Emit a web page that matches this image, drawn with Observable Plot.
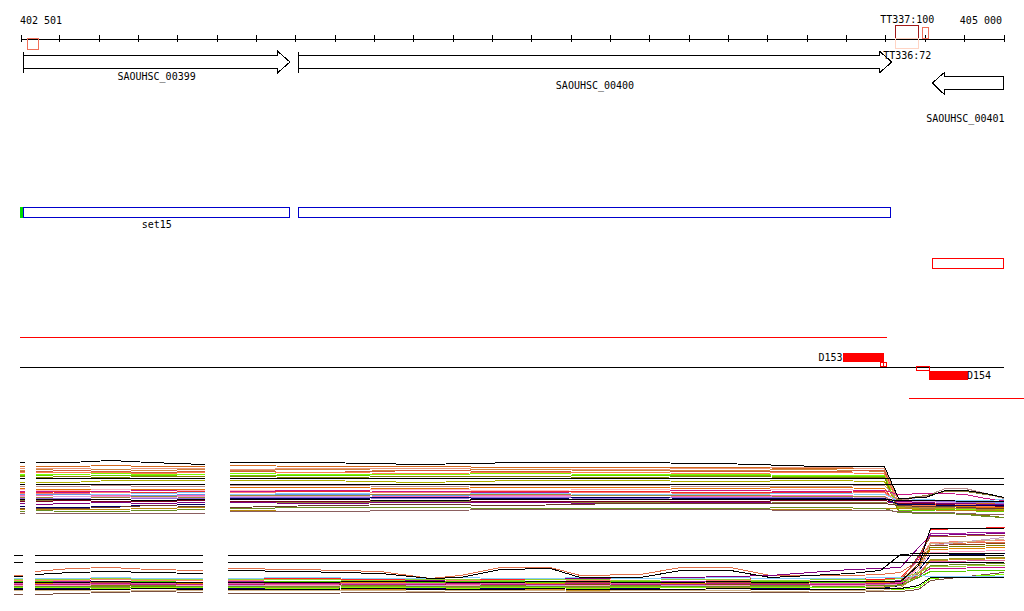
<!DOCTYPE html>
<html><head><meta charset="utf-8">
<script src="https://cdn.jsdelivr.net/npm/d3@7"></script>
<script src="https://cdn.jsdelivr.net/npm/@observablehq/plot@0.6"></script>
<style>
html,body{margin:0;padding:0;background:#fff}
#chart{position:relative;width:1024px;height:611px;overflow:hidden;background:#fff}
#chart svg{position:absolute;left:0}
</style>
</head><body><div id="chart"></div><script>
// ---------------- DATA ----------------
const axisRange = [402501, 405000];
const axisTicks = [402501,402600,402700,402800,402900,403000,403100,403200,403300,403400,403500,403600,403700,
  403800,403900,404000,404100,404200,404300,404400,404500,404600,404700,404800,404900,405000];
const axisLabels = ["402 501", "405 000"];

const geneNames  = ["SAOUHSC_00399", "SAOUHSC_00400", "SAOUHSC_00401"];
const geneStart  = [402508, 403207, 404819];
const geneEnd    = [403186, 404716, 405060];
const geneStrand = ["+", "+", "-"];

const termNames  = ["TT337:100", "TT336:72"];
const termStart  = [404725, 404725];
const termEnd    = [404783, 404783];
const termStrand = ["+", "-"];

const miscStart  = [402520, 404794];
const miscEnd    = [402546, 404809];
const miscStrand = ["-", "+"];

const setNames  = ["set15", ""];
const setStart  = [402508, 403207];
const setEnd    = [403184, 404714];
const setMarker = [402500, 402508];

const regionStart = [404819];
const regionEnd   = [405000];

const redSpanA  = [402500, 404703];
const baseSpan  = [402500, 405000];
const redSpanB  = [404760, 405052];

const peakNames  = ["D153", "D154"];
const peakStart  = [404592, 404811];
const peakEnd    = [404696, 404911];
const peakStrand = ["+", "-"];

const siteStart  = [404687, 404695, 404778];
const siteEnd    = [404695, 404703, 404812];
const siteStrand = ["+", "+", "-"];

// upper expression panel (probe positions, bp)
const upperStubPos  = [402500, 402510];
const upperMidPos   = [402540, 402627, 402729, 402830, 402967];
const upperRightPos = [403034, 403262, 403517, 403771, 404025, 404279, 404534, 404696, 404732, 404800, 404851, 404902, 404953, 405000];
const upperColors = ["#d2691e","#e9967a","#cd853f","#cd5c3c","#ff7f50","#7cfc00","#66cc00","#808000","#b0b000","#bc8f8f",
  "#e07000","#ffb6c1","#c71585","#ee2c2c","#fa8072","#87cefa","#6495ed","#ff69b4","#dda0dd","#a08838",
  "#9370db","#8b7d3a","#7a0020","#800080","#000060","#6b3a2a","#b8860b","#6b8e23","#8b5f5f",
  "#000000","#000000","#000000","#000000"];
const upperStub = [54,52,50,49,48,46,45,44,38,34,32,31,29,28,27,26,26,25,24,23,22,20,19,17,14,12,11,9,7,21,36,42,58];
const upperMid = [
  [54,54,55,54,54],[52,52,51,52,52],[51,50,51,50,51],[49,50,49,48,49],[48,48,48,47,48],
  [46,46,47,46,46],[45,44,45,45,44],[43,44,43,44,44],[38,38,40,40,40],[34,34,35,34,34],
  [31,31,31,31,31],[30,30,31,30,30],[29,28,29,30,29],[28,29,28,28,29],[27,27,28,27,26],
  [25,26,26,27,28],[26,26,25,25,26],[25,24,25,24,25],[23,24,24,23,24],[23,22,23,24,23],
  [22,22,21,22,22],[20,20,19,20,20],[19,20,19,19,20],[16,17,18,17,18],[13,13,14,15,16],
  [12,12,13,15,14],[11,11,11,12,13],[10,9,9,10,11],[7,7,7,7,7],
  [21,21,21,20,21],[36,36,36,36,36],[42,42,42,42,42],[58,58,60,58,56]];
const upperRight = [
  [55,54,54,53,53,53,52,52,19,18,19,18,17,16],
  [51,52,52,51,51,52,53,52,18,18,17,17,16,16],
  [50,51,50,51,50,50,51,49,14,13,14,13,12,12],
  [49,48,50,49,48,49,49,50,15,14,16,15,14,13],
  [47,48,47,48,48,47,48,47,16,15,15,14,14,14],
  [47,46,46,47,46,46,45,45,12,11,12,11,11,10],
  [45,45,44,44,45,45,44,44,10,10,11,10,9,9],
  [44,43,44,44,43,44,43,43,9,8,8,7,5,3],
  [40,40,38,40,40,39,40,39,13,12,12,12,11,11],
  [35,35,34,35,35,34,34,35,20,24,32,32,27,22],
  [33,33,32,33,33,32,33,32,15,14,14,14,13,13],
  [30,30,31,30,31,30,31,30,17,16,16,16,15,15],
  [29,30,29,28,29,30,29,30,26,27,27,26,22,20],
  [28,29,28,29,29,28,28,29,17,16,16,15,15,14],
  [28,27,28,27,28,27,27,28,18,17,17,16,16,16],
  [26,27,26,27,26,26,27,26,20,21,20,20,20,21],
  [25,26,25,24,25,24,23,22,20,19,19,19,18,18],
  [24,25,24,25,25,24,25,24,18,18,19,18,18,17],
  [24,24,23,24,23,23,24,23,19,19,18,18,19,19],
  [25,25,26,26,25,25,24,24,14,12,13,12,11,10],
  [23,23,22,23,22,23,23,22,19,20,19,18,18,17],
  [18,18,19,18,18,19,18,18,21,25,29,29,26,23],
  [19,19,20,19,19,19,20,20,17,17,16,15,15,14],
  [18,17,18,18,17,18,17,17,19,18,17,17,16,16],
  [22,22,23,22,23,22,22,22,16,16,15,15,15,15],
  [13,15,16,15,17,17,17,17,15,14,14,13,12,12],
  [10,9,10,11,12,11,11,12,12,11,10,10,10,10],
  [12,13,13,12,12,12,13,12,8,7,7,6,4,3],
  [9,9,10,11,11,11,10,10,9,8,8,7,6,6],
  [21,21,20,21,21,21,21,21,20,20,20,19,19,19],
  [36,36,36,36,36,36,36,36,36,36,36,36,36,36],
  [42,42,42,42,42,42,42,42,42,42,42,42,42,42],
  [58,58,56,58,58,57,54,54,22,23,30,30,27,23]];

// lower expression panel
const lowerStubPos  = [402484, 402505];
const lowerMidPos   = [402538, 402627, 402729, 402830, 402962];
const lowerRightPos = [403029, 403212, 403415, 403542, 403618, 403720, 403847, 403923, 404076, 404178, 404305, 404406, 404610, 404686, 404737, 404783, 404813, 405000];
const lowerColors = ["#e0704a","#800080","#ff2020","#a020a0","#a0522d","#c8a2c8","#fa8072","#8b4513","#808000","#e08000",
  "#ff9ec0","#000050","#9a9a20","#e060a0","#9acd32","#c71585","#55cc00","#7a5040","#7cfc00","#87cefa",
  "#c89020","#d2b48c","#6b8e23","#000000","#000000","#000000","#000000","#000000"];
const lowerStub = [30,24,26,24,22,20,25,21,19,23,20,17,18,22,26,21,24,11,18,27,16,15,19,16,23,29,43,50];
const lowerMid = [
  [34,37,38,36,35],[24,25,24,25,25],[26,27,27,26,26],[23,24,24,24,23],[22,22,23,22,22],
  [20,21,20,20,21],[25,25,26,25,25],[21,20,21,21,20],[19,19,20,19,19],[22,23,22,23,22],
  [20,20,19,20,20],[17,17,18,17,17],[18,19,18,18,19],[21,22,21,22,21],[26,26,27,26,26],
  [21,21,22,21,21],[24,23,24,24,23],[11,12,13,14,13],[18,18,17,18,18],[27,27,28,27,27],
  [15,16,16,15,16],[15,15,14,15,15],[19,19,19,20,19],[16,16,16,17,16],[23,23,24,23,23],
  [31,33,34,33,32],[43,43,43,43,43],[50,50,50,50,50]];
const lowerRight = [
  [37,36,34,27,30,38,38,30,31,38,38,30,30,31,33,45,62,63],
  [24,24,25,25,24,25,26,27,27,28,29,30,36,37,38,58,70,72],
  [27,27,26,27,26,26,27,26,27,26,26,27,27,26,28,45,76,78],
  [24,23,24,24,23,24,24,23,24,24,23,24,24,23,25,48,72,73],
  [22,23,22,22,23,22,22,23,22,22,23,22,23,22,24,50,69,70],
  [20,20,21,20,20,21,20,20,21,20,20,21,21,20,22,40,60,68],
  [25,26,25,26,25,25,26,25,25,26,25,25,26,25,27,45,63,65],
  [21,21,20,21,21,20,21,21,20,21,21,20,21,22,23,42,60,62],
  [19,20,19,19,20,19,19,20,19,19,20,19,20,19,21,38,58,60],
  [22,22,23,22,22,23,22,22,23,22,22,23,22,23,24,40,56,58],
  [19,20,20,19,20,20,19,20,20,19,20,20,20,19,22,38,53,55],
  [17,17,18,17,17,17,18,17,17,18,17,17,18,17,20,35,50,52],
  [18,18,19,18,18,19,18,18,19,18,18,19,18,18,20,32,46,48],
  [22,21,22,22,21,22,21,22,22,21,22,21,22,21,23,33,44,45],
  [26,26,25,26,26,25,26,26,25,26,26,25,26,25,27,33,39,40],
  [21,22,21,21,22,21,21,22,21,21,22,21,21,22,22,30,37,38],
  [23,24,24,23,24,24,23,24,24,23,24,24,23,24,24,28,34,35],
  [12,12,13,13,13,13,13,13,13,13,13,13,13,14,14,16,25,33],
  [18,17,18,18,17,18,18,17,18,18,17,18,18,17,16,18,27,31],
  [27,28,27,27,28,27,27,28,27,27,28,27,27,28,28,30,29,29],
  [16,15,16,16,15,16,16,15,16,16,15,16,16,15,18,30,45,47],
  [15,15,15,14,15,15,15,14,15,15,15,14,15,15,18,35,62,66],
  [19,19,20,19,19,20,19,19,20,19,19,20,19,20,20,28,40,42],
  [16,16,17,16,16,16,17,16,16,16,17,16,16,17,17,20,28,28],
  [23,23,24,24,23,23,24,24,23,23,24,23,24,24,24,40,77,77],
  [35,34,32,27,28,36,37,28,28,35,35,28,32,35,51,52,52,52],
  [43,43,43,43,43,43,43,43,43,43,43,43,43,43,43,43,43,43],
  [50,50,50,50,50,50,50,50,50,50,50,50,50,50,50,50,50,50]];

// ---------------- LAYOUT / STYLE ----------------
const FONT = "DejaVu Sans Mono, monospace";
const L = {
  axisY: 38.5, tickY1: 35, tickY2: 42, axisLabelY: 20,
  termPlus: [25.5, 38.5], termMinus: [38.5, 48.5], termLabelPlus: 19.5, termLabelMinus: 55,
  miscPlus: [27.5, 38.5], miscMinus: [38.5, 49.5],
  fwd: {ht: 51.5, bt: 55.5, mid: 62, bb: 68.5, hb: 72.5},
  rev: {ht: 72.5, bt: 76.5, mid: 83, bb: 89.5, hb: 94.5},
  head: 12, geneLabelY: [76, 85, 118],
  setY: [207.5, 217.5], setLabelY: 224,
  regionY: [258.5, 268.5],
  redA: 336.5, base: 366.5, redB: 397.5,
  peakPlus: [353, 362], peakMinus: [371, 379.5],
  sitePlus: [362.5, 366.5], siteMinus: [366.5, 370.5]
};
const termStroke = ["#a01818", "#ffd4c4"];
const xOpts = {domain: axisRange, range: [20.5, 1003.5], axis: null};
const idx = a => a.map((_, i) => i);

// gene arrows drawn with Plot's x scale
function geneMark(index, scales) {
  const X = scales.x;
  const xMax = X(axisRange[1]);
  const g = d3.create("svg:g");
  geneNames.forEach((name, i) => {
    const a = X(geneStart[i]);
    const clipped = X(geneEnd[i]) > xMax;
    const b = Math.min(X(geneEnd[i]), xMax);
    let d;
    if (geneStrand[i] === "+") {
      const r = L.fwd, hs = b - L.head;
      d = `M${a},${r.bt}H${hs}V${r.ht}L${b},${r.mid}L${hs},${r.hb}V${r.bb}H${a}Z M${a},${r.ht}V${r.hb}`;
    } else {
      const r = L.rev, hs = a + L.head;
      d = `M${b},${r.bt}H${hs}V${r.ht}L${a},${r.mid}L${hs},${r.hb}V${r.bb}H${b}Z`;
    }
    g.append("path").attr("d", d).attr("fill", "white").attr("stroke", "black")
      .attr("stroke-width", 1).attr("shape-rendering", "crispEdges");
    g.append("text")
      .attr("x", clipped ? xMax + 1 : (a + b) / 2)
      .attr("y", L.geneLabelY[i]).attr("dy", "0.35em")
      .attr("text-anchor", clipped ? "end" : "middle")
      .attr("font-family", FONT).attr("font-size", 10).attr("fill", "black")
      .text(name);
  });
  return g.node();
}

const txt = {fontFamily: FONT, fontSize: 10, fill: "black"};
const crisp = {shapeRendering: "crispEdges"};

const tracks = Plot.plot({
  width: 1024, height: 420, margin: 0,
  x: xOpts, y: {type: "identity", axis: null},
  style: {background: "transparent"},
  marks: [
    // axis
    Plot.ruleY([L.axisY], {x1: axisRange[0], x2: axisRange[1], stroke: "black", ...crisp}),
    Plot.ruleX(axisTicks, {y1: L.tickY1, y2: L.tickY2, stroke: "black", ...crisp}),
    Plot.text([0], {x: axisRange[0], y: L.axisLabelY, text: () => axisLabels[0], textAnchor: "start", dx: -1, ...txt}),
    Plot.text([1], {x: axisRange[1], y: L.axisLabelY, text: () => axisLabels[1], textAnchor: "end", dx: -2, ...txt}),
    // terminators & misc boxes
    Plot.rect(idx(termNames), {x1: i => termStart[i], x2: i => termEnd[i],
      y1: i => (termStrand[i] === "+" ? L.termPlus : L.termMinus)[0],
      y2: i => (termStrand[i] === "+" ? L.termPlus : L.termMinus)[1],
      stroke: i => termStroke[i], fill: "none", ...crisp}),
    Plot.rect(idx(miscStart), {x1: i => miscStart[i], x2: i => miscEnd[i],
      y1: i => (miscStrand[i] === "+" ? L.miscPlus : L.miscMinus)[0],
      y2: i => (miscStrand[i] === "+" ? L.miscPlus : L.miscMinus)[1],
      stroke: "#f0705a", fill: "none", ...crisp}),
    // genes
    geneMark,
    Plot.text(idx(termNames), {x: i => (termStart[i] + termEnd[i]) / 2,
      y: i => termStrand[i] === "+" ? L.termLabelPlus : L.termLabelMinus,
      text: i => termNames[i], textAnchor: "middle", ...txt}),
    // sets
    Plot.rect(idx(setStart), {x1: i => setStart[i], x2: i => setEnd[i], y1: L.setY[0], y2: L.setY[1],
      stroke: "#0000cc", fill: "white", ...crisp}),
    Plot.rect([0], {x1: setMarker[0], x2: setMarker[1], y1: L.setY[0] - 0.5, y2: L.setY[1] + 0.5, fill: "#00dd00", ...crisp}),
    Plot.text(idx(setNames), {x: i => (setStart[i] + setEnd[i]) / 2, y: L.setLabelY, text: i => setNames[i], textAnchor: "middle", ...txt}),
    // region
    Plot.rect(idx(regionStart), {x1: i => regionStart[i], x2: i => regionEnd[i], y1: L.regionY[0], y2: L.regionY[1],
      stroke: "#ff0000", fill: "none", ...crisp}),
    // spans
    Plot.ruleY([L.redA], {x1: redSpanA[0], x2: redSpanA[1], stroke: "#ff0000", strokeWidth: 1, ...crisp}),
    Plot.ruleY([L.base], {x1: baseSpan[0], x2: baseSpan[1], stroke: "black", ...crisp}),
    Plot.ruleY([L.redB], {x1: redSpanB[0], x2: redSpanB[1], stroke: "#ff0000", strokeWidth: 1, ...crisp}),
    // sites & peaks
    Plot.rect(idx(siteStart), {x1: i => siteStart[i], x2: i => siteEnd[i],
      y1: i => (siteStrand[i] === "+" ? L.sitePlus : L.siteMinus)[0],
      y2: i => (siteStrand[i] === "+" ? L.sitePlus : L.siteMinus)[1],
      stroke: "#ff0000", fill: "none", ...crisp}),
    Plot.rect(idx(peakNames), {x1: i => peakStart[i], x2: i => peakEnd[i],
      y1: i => (peakStrand[i] === "+" ? L.peakPlus : L.peakMinus)[0],
      y2: i => (peakStrand[i] === "+" ? L.peakPlus : L.peakMinus)[1],
      fill: "#ff0000", ...crisp}),
    Plot.text([0], {x: peakStart[0], y: (L.peakPlus[0] + L.peakPlus[1]) / 2, text: () => peakNames[0], textAnchor: "end", dx: -1, ...txt}),
    Plot.text([1], {x: peakEnd[1], y: (L.peakMinus[0] + L.peakMinus[1]) / 2, text: () => peakNames[1], textAnchor: "start", dx: -2, ...txt})
  ]
});
tracks.style.top = "0px";

function panel(top, height, colors, stubPos, stub, midPos, mid, rightPos, right) {
  const rows = [];
  colors.forEach((c, i) => {
    stubPos.forEach(p => rows.push({x: p, v: stub[i], key: i + "s", c}));
    midPos.forEach((p, j) => rows.push({x: p, v: mid[i][j], key: i + "m", c}));
    rightPos.forEach((p, j) => rows.push({x: p, v: right[i][j], key: i + "r", c}));
  });
  const svg = Plot.plot({
    width: 1024, height, margin: 0,
    x: xOpts, y: {domain: [0, height], axis: null},
    color: {type: "identity"},
    style: {background: "transparent"},
    marks: [Plot.line(rows, {x: "x", y: "v", z: "key", stroke: "c", strokeWidth: 1, ...crisp})]
  });
  svg.style.top = top + "px";
  return svg;
}

const chart = document.getElementById("chart");
chart.append(tracks);
chart.append(panel(450, 70, upperColors, upperStubPos, upperStub, upperMidPos, upperMid, upperRightPos, upperRight));
chart.append(panel(520, 85, lowerColors, lowerStubPos, lowerStub, lowerMidPos, lowerMid, lowerRightPos, lowerRight));
</script></body></html>
